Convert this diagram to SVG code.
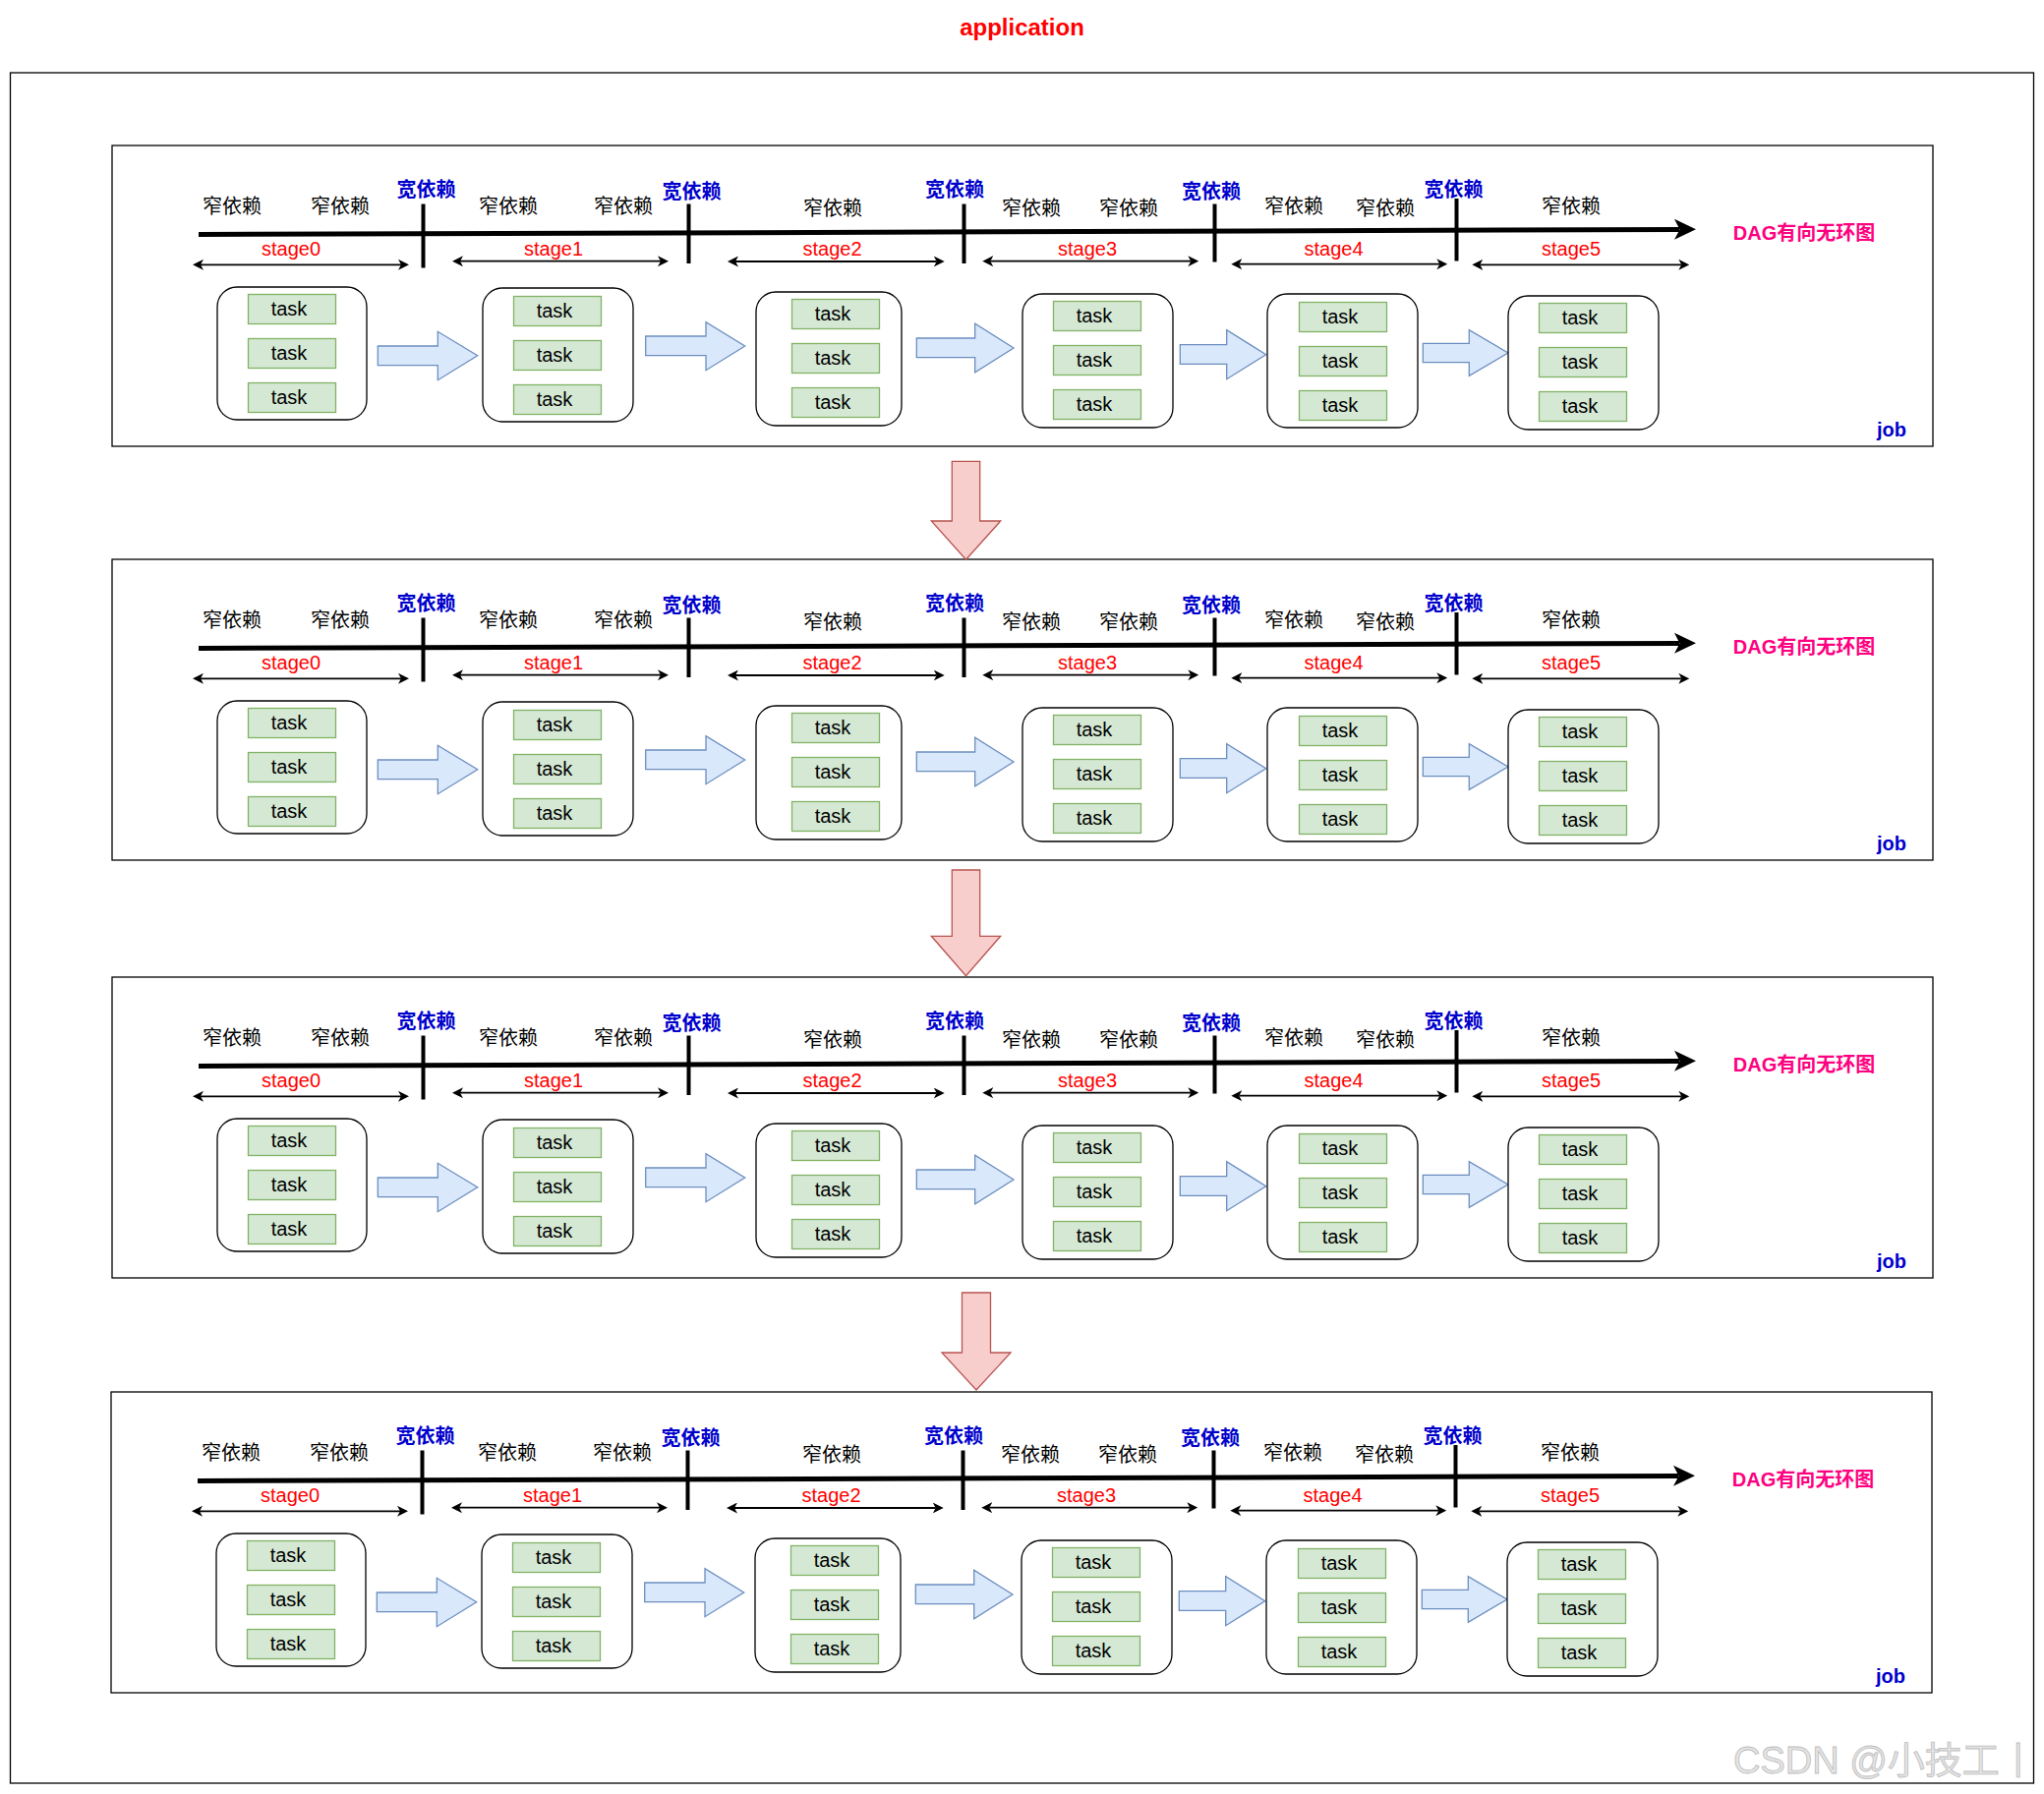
<svg xmlns="http://www.w3.org/2000/svg" width="2079" height="1825" viewBox="0 0 2079 1825">
<style>
.frame{fill:#fff;stroke:#000;stroke-width:1.3}
.job{fill:#fff;stroke:#000;stroke-width:1.3}
.stg{fill:#fff;stroke:#000;stroke-width:1.3}
.task{fill:#d5e8d4;stroke:#82b366;stroke-width:1.3}
.tt{font-family:"Liberation Sans",Arial,sans-serif;font-size:20px;text-anchor:middle;fill:#000}
.narrow{font-family:"Noto Sans CJK SC",sans-serif;font-size:20px;text-anchor:middle;fill:#000}
.wide{font-family:"Noto Sans CJK SC",sans-serif;font-size:20px;font-weight:bold;text-anchor:middle;fill:#0000CC}
.stage{font-family:"Liberation Sans",Arial,sans-serif;font-size:20px;text-anchor:middle;fill:#FF0000}
.dag{font-family:"Liberation Sans","Noto Sans CJK SC",sans-serif;font-size:20px;font-weight:bold;text-anchor:middle;fill:#FF0080}
.jobl{font-family:"Liberation Sans",Arial,sans-serif;font-size:20px;font-weight:bold;fill:#0000CC}
.title{font-family:"Liberation Sans",Arial,sans-serif;font-size:24px;font-weight:bold;text-anchor:middle;fill:#FF0000}
.sep{stroke:#000;stroke-width:4}
.axis{stroke:#000;stroke-width:5}
.span{stroke:#000;stroke-width:1.8;fill:none;marker-start:url(#ah);marker-end:url(#ah)}
.barr{fill:#dae8fc;stroke:#6c8ebf;stroke-width:1.3}
.darr{fill:#f8cecc;stroke:#b85450;stroke-width:1.3}
.wm{font-family:"Liberation Sans","Noto Sans CJK SC",sans-serif;font-size:38px;fill:#e4e4e4;stroke:#bdbdbd;stroke-width:0.8}
</style>
<defs>
<marker id="ah" viewBox="0 0 11 11" refX="3" refY="5.5" markerWidth="11" markerHeight="11" markerUnits="userSpaceOnUse" orient="auto-start-reverse"><path d="M0,0 L11,5.5 L0,11 L3,5.5 z" fill="#000"/></marker>
</defs>
<rect width="2079" height="1825" fill="#fff"/>
<g id="application">
<rect class="frame" x="10.5" y="74" width="2058" height="1740"/>
<text class="title" x="1039.5" y="36">application</text>
</g>

<!-- ROW 1 -->
<g id="r1">
<g id="r1-job"><rect class="job" x="114" y="148" width="1852" height="306"/><text class="jobl" x="1909" y="443.5">job</text></g>
<g id="r1-labels">
<text class="narrow" x="236" y="216.5">窄依赖</text>
<text class="narrow" x="346" y="216.5">窄依赖</text>
<text class="narrow" x="517" y="216.5">窄依赖</text>
<text class="narrow" x="634" y="216.5">窄依赖</text>
<text class="narrow" x="847" y="218.5">窄依赖</text>
<text class="narrow" x="1049" y="219">窄依赖</text>
<text class="narrow" x="1148" y="219">窄依赖</text>
<text class="narrow" x="1316" y="216.5">窄依赖</text>
<text class="narrow" x="1409" y="218.5">窄依赖</text>
<text class="narrow" x="1598" y="216.5">窄依赖</text>
<text class="wide" x="433.5" y="199.5">宽依赖</text>
<text class="wide" x="703.5" y="201.5">宽依赖</text>
<text class="wide" x="971" y="199.5">宽依赖</text>
<text class="wide" x="1232" y="201.5">宽依赖</text>
<text class="wide" x="1478.5" y="199.5">宽依赖</text>
<text class="stage" x="296" y="260">stage0</text>
<text class="stage" x="563" y="260">stage1</text>
<text class="stage" x="846.5" y="260">stage2</text>
<text class="stage" x="1106" y="260">stage3</text>
<text class="stage" x="1356.5" y="260">stage4</text>
<text class="stage" x="1598" y="260">stage5</text>
<text class="dag" x="1835" y="244">DAG有向无环图</text>
</g>
<g id="r1-connectors">
<line class="axis" x1="202" y1="238.5" x2="1708" y2="233.5"/>
<polygon points="1725,233.3 1703,222.8 1708.5,233.4 1703,243.8" fill="#000"/>
<line class="sep" x1="430.5" y1="207.5" x2="430.5" y2="272.5"/>
<line class="sep" x1="700.5" y1="207.5" x2="700.5" y2="268"/>
<line class="sep" x1="980.5" y1="207.5" x2="980.5" y2="268"/>
<line class="sep" x1="1235.5" y1="207.5" x2="1235.5" y2="266.5"/>
<line class="sep" x1="1481.5" y1="202" x2="1481.5" y2="265.5"/>
<line class="span" x1="204" y1="269.3" x2="408" y2="269.3"/>
<line class="span" x1="468" y1="265.7" x2="672" y2="265.7"/>
<line class="span" x1="748" y1="266" x2="952.7" y2="266"/>
<line class="span" x1="1007.3" y1="265.7" x2="1211.3" y2="265.7"/>
<line class="span" x1="1260.3" y1="268.7" x2="1464.3" y2="268.7"/>
<line class="span" x1="1505.3" y1="269.3" x2="1710.3" y2="269.3"/>
<polygon class="barr" points="384.3,352 445.3,352 445.3,337.3 485.7,361.8 445.3,386.7 445.3,371.7 384.3,371.7"/>
<polygon class="barr" points="656.7,342 718,342 718,327.7 757.7,352 718,376.7 718,361.7 656.7,361.7"/>
<polygon class="barr" points="932.3,344 991.7,344 991.7,329.3 1031,354 991.7,378.7 991.7,363.7 932.3,363.7"/>
<polygon class="barr" points="1200.3,350.7 1247.7,350.7 1247.7,335.7 1287.7,360.7 1247.7,385.7 1247.7,370.3 1200.3,370.3"/>
<polygon class="barr" points="1447.3,349.3 1494.3,349.3 1494.3,335.7 1534,359 1494.3,382.3 1494.3,368.7 1447.3,368.7"/>
</g>
<g id="r1-stage0"><rect class="stg" x="221" y="292" width="152" height="135" rx="20"/>
<g id="r1-s0-t1"><rect class="task" x="252.5" y="299.5" width="89" height="30"/><text class="tt" x="294" y="321">task</text></g>
<g id="r1-s0-t2"><rect class="task" x="252.5" y="344.5" width="89" height="30"/><text class="tt" x="294" y="366">task</text></g>
<g id="r1-s0-t3"><rect class="task" x="252.5" y="389.5" width="89" height="30"/><text class="tt" x="294" y="411">task</text></g></g>
<g id="r1-stage1"><rect class="stg" x="491" y="293" width="153" height="136" rx="20"/>
<g id="r1-s1-t1"><rect class="task" x="522.5" y="301.5" width="89" height="30"/><text class="tt" x="564" y="323">task</text></g>
<g id="r1-s1-t2"><rect class="task" x="522.5" y="346.5" width="89" height="30"/><text class="tt" x="564" y="368">task</text></g>
<g id="r1-s1-t3"><rect class="task" x="522.5" y="391.5" width="89" height="30"/><text class="tt" x="564" y="413">task</text></g></g>
<g id="r1-stage2"><rect class="stg" x="769" y="297" width="148" height="136" rx="20"/>
<g id="r1-s2-t1"><rect class="task" x="805.5" y="304.5" width="89" height="30"/><text class="tt" x="847" y="326">task</text></g>
<g id="r1-s2-t2"><rect class="task" x="805.5" y="349.5" width="89" height="30"/><text class="tt" x="847" y="371">task</text></g>
<g id="r1-s2-t3"><rect class="task" x="805.5" y="394.5" width="89" height="30"/><text class="tt" x="847" y="416">task</text></g></g>
<g id="r1-stage3"><rect class="stg" x="1040" y="299" width="153" height="136" rx="20"/>
<g id="r1-s3-t1"><rect class="task" x="1071.5" y="306.5" width="89" height="30"/><text class="tt" x="1113" y="328">task</text></g>
<g id="r1-s3-t2"><rect class="task" x="1071.5" y="351.5" width="89" height="30"/><text class="tt" x="1113" y="373">task</text></g>
<g id="r1-s3-t3"><rect class="task" x="1071.5" y="396.5" width="89" height="30"/><text class="tt" x="1113" y="418">task</text></g></g>
<g id="r1-stage4"><rect class="stg" x="1289" y="299" width="153" height="136" rx="20"/>
<g id="r1-s4-t1"><rect class="task" x="1321.5" y="307.5" width="89" height="30"/><text class="tt" x="1363" y="329">task</text></g>
<g id="r1-s4-t2"><rect class="task" x="1321.5" y="352.5" width="89" height="30"/><text class="tt" x="1363" y="374">task</text></g>
<g id="r1-s4-t3"><rect class="task" x="1321.5" y="397.5" width="89" height="30"/><text class="tt" x="1363" y="419">task</text></g></g>
<g id="r1-stage5"><rect class="stg" x="1534" y="301" width="153" height="136" rx="20"/>
<g id="r1-s5-t1"><rect class="task" x="1565.5" y="308.5" width="89" height="30"/><text class="tt" x="1607" y="330">task</text></g>
<g id="r1-s5-t2"><rect class="task" x="1565.5" y="353.5" width="89" height="30"/><text class="tt" x="1607" y="375">task</text></g>
<g id="r1-s5-t3"><rect class="task" x="1565.5" y="398.5" width="89" height="30"/><text class="tt" x="1607" y="420">task</text></g></g>
</g>

<!-- ROW 2 -->
<g id="r2" transform="translate(0,421)">
<g id="r2-job"><rect class="job" x="114" y="148" width="1852" height="306"/><text class="jobl" x="1909" y="443.5">job</text></g>
<g id="r2-labels">
<text class="narrow" x="236" y="216.5">窄依赖</text>
<text class="narrow" x="346" y="216.5">窄依赖</text>
<text class="narrow" x="517" y="216.5">窄依赖</text>
<text class="narrow" x="634" y="216.5">窄依赖</text>
<text class="narrow" x="847" y="218.5">窄依赖</text>
<text class="narrow" x="1049" y="219">窄依赖</text>
<text class="narrow" x="1148" y="219">窄依赖</text>
<text class="narrow" x="1316" y="216.5">窄依赖</text>
<text class="narrow" x="1409" y="218.5">窄依赖</text>
<text class="narrow" x="1598" y="216.5">窄依赖</text>
<text class="wide" x="433.5" y="199.5">宽依赖</text>
<text class="wide" x="703.5" y="201.5">宽依赖</text>
<text class="wide" x="971" y="199.5">宽依赖</text>
<text class="wide" x="1232" y="201.5">宽依赖</text>
<text class="wide" x="1478.5" y="199.5">宽依赖</text>
<text class="stage" x="296" y="260">stage0</text>
<text class="stage" x="563" y="260">stage1</text>
<text class="stage" x="846.5" y="260">stage2</text>
<text class="stage" x="1106" y="260">stage3</text>
<text class="stage" x="1356.5" y="260">stage4</text>
<text class="stage" x="1598" y="260">stage5</text>
<text class="dag" x="1835" y="244">DAG有向无环图</text>
</g>
<g id="r2-connectors">
<line class="axis" x1="202" y1="238.5" x2="1708" y2="233.5"/>
<polygon points="1725,233.3 1703,222.8 1708.5,233.4 1703,243.8" fill="#000"/>
<line class="sep" x1="430.5" y1="207.5" x2="430.5" y2="272.5"/>
<line class="sep" x1="700.5" y1="207.5" x2="700.5" y2="268"/>
<line class="sep" x1="980.5" y1="207.5" x2="980.5" y2="268"/>
<line class="sep" x1="1235.5" y1="207.5" x2="1235.5" y2="266.5"/>
<line class="sep" x1="1481.5" y1="202" x2="1481.5" y2="265.5"/>
<line class="span" x1="204" y1="269.3" x2="408" y2="269.3"/>
<line class="span" x1="468" y1="265.7" x2="672" y2="265.7"/>
<line class="span" x1="748" y1="266" x2="952.7" y2="266"/>
<line class="span" x1="1007.3" y1="265.7" x2="1211.3" y2="265.7"/>
<line class="span" x1="1260.3" y1="268.7" x2="1464.3" y2="268.7"/>
<line class="span" x1="1505.3" y1="269.3" x2="1710.3" y2="269.3"/>
<polygon class="barr" points="384.3,352 445.3,352 445.3,337.3 485.7,361.8 445.3,386.7 445.3,371.7 384.3,371.7"/>
<polygon class="barr" points="656.7,342 718,342 718,327.7 757.7,352 718,376.7 718,361.7 656.7,361.7"/>
<polygon class="barr" points="932.3,344 991.7,344 991.7,329.3 1031,354 991.7,378.7 991.7,363.7 932.3,363.7"/>
<polygon class="barr" points="1200.3,350.7 1247.7,350.7 1247.7,335.7 1287.7,360.7 1247.7,385.7 1247.7,370.3 1200.3,370.3"/>
<polygon class="barr" points="1447.3,349.3 1494.3,349.3 1494.3,335.7 1534,359 1494.3,382.3 1494.3,368.7 1447.3,368.7"/>
</g>
<g id="r2-stage0"><rect class="stg" x="221" y="292" width="152" height="135" rx="20"/>
<g id="r2-s0-t1"><rect class="task" x="252.5" y="299.5" width="89" height="30"/><text class="tt" x="294" y="321">task</text></g>
<g id="r2-s0-t2"><rect class="task" x="252.5" y="344.5" width="89" height="30"/><text class="tt" x="294" y="366">task</text></g>
<g id="r2-s0-t3"><rect class="task" x="252.5" y="389.5" width="89" height="30"/><text class="tt" x="294" y="411">task</text></g></g>
<g id="r2-stage1"><rect class="stg" x="491" y="293" width="153" height="136" rx="20"/>
<g id="r2-s1-t1"><rect class="task" x="522.5" y="301.5" width="89" height="30"/><text class="tt" x="564" y="323">task</text></g>
<g id="r2-s1-t2"><rect class="task" x="522.5" y="346.5" width="89" height="30"/><text class="tt" x="564" y="368">task</text></g>
<g id="r2-s1-t3"><rect class="task" x="522.5" y="391.5" width="89" height="30"/><text class="tt" x="564" y="413">task</text></g></g>
<g id="r2-stage2"><rect class="stg" x="769" y="297" width="148" height="136" rx="20"/>
<g id="r2-s2-t1"><rect class="task" x="805.5" y="304.5" width="89" height="30"/><text class="tt" x="847" y="326">task</text></g>
<g id="r2-s2-t2"><rect class="task" x="805.5" y="349.5" width="89" height="30"/><text class="tt" x="847" y="371">task</text></g>
<g id="r2-s2-t3"><rect class="task" x="805.5" y="394.5" width="89" height="30"/><text class="tt" x="847" y="416">task</text></g></g>
<g id="r2-stage3"><rect class="stg" x="1040" y="299" width="153" height="136" rx="20"/>
<g id="r2-s3-t1"><rect class="task" x="1071.5" y="306.5" width="89" height="30"/><text class="tt" x="1113" y="328">task</text></g>
<g id="r2-s3-t2"><rect class="task" x="1071.5" y="351.5" width="89" height="30"/><text class="tt" x="1113" y="373">task</text></g>
<g id="r2-s3-t3"><rect class="task" x="1071.5" y="396.5" width="89" height="30"/><text class="tt" x="1113" y="418">task</text></g></g>
<g id="r2-stage4"><rect class="stg" x="1289" y="299" width="153" height="136" rx="20"/>
<g id="r2-s4-t1"><rect class="task" x="1321.5" y="307.5" width="89" height="30"/><text class="tt" x="1363" y="329">task</text></g>
<g id="r2-s4-t2"><rect class="task" x="1321.5" y="352.5" width="89" height="30"/><text class="tt" x="1363" y="374">task</text></g>
<g id="r2-s4-t3"><rect class="task" x="1321.5" y="397.5" width="89" height="30"/><text class="tt" x="1363" y="419">task</text></g></g>
<g id="r2-stage5"><rect class="stg" x="1534" y="301" width="153" height="136" rx="20"/>
<g id="r2-s5-t1"><rect class="task" x="1565.5" y="308.5" width="89" height="30"/><text class="tt" x="1607" y="330">task</text></g>
<g id="r2-s5-t2"><rect class="task" x="1565.5" y="353.5" width="89" height="30"/><text class="tt" x="1607" y="375">task</text></g>
<g id="r2-s5-t3"><rect class="task" x="1565.5" y="398.5" width="89" height="30"/><text class="tt" x="1607" y="420">task</text></g></g>
</g>

<!-- ROW 3 -->
<g id="r3" transform="translate(0,846)">
<g id="r3-job"><rect class="job" x="114" y="148" width="1852" height="306"/><text class="jobl" x="1909" y="443.5">job</text></g>
<g id="r3-labels">
<text class="narrow" x="236" y="216.5">窄依赖</text>
<text class="narrow" x="346" y="216.5">窄依赖</text>
<text class="narrow" x="517" y="216.5">窄依赖</text>
<text class="narrow" x="634" y="216.5">窄依赖</text>
<text class="narrow" x="847" y="218.5">窄依赖</text>
<text class="narrow" x="1049" y="219">窄依赖</text>
<text class="narrow" x="1148" y="219">窄依赖</text>
<text class="narrow" x="1316" y="216.5">窄依赖</text>
<text class="narrow" x="1409" y="218.5">窄依赖</text>
<text class="narrow" x="1598" y="216.5">窄依赖</text>
<text class="wide" x="433.5" y="199.5">宽依赖</text>
<text class="wide" x="703.5" y="201.5">宽依赖</text>
<text class="wide" x="971" y="199.5">宽依赖</text>
<text class="wide" x="1232" y="201.5">宽依赖</text>
<text class="wide" x="1478.5" y="199.5">宽依赖</text>
<text class="stage" x="296" y="260">stage0</text>
<text class="stage" x="563" y="260">stage1</text>
<text class="stage" x="846.5" y="260">stage2</text>
<text class="stage" x="1106" y="260">stage3</text>
<text class="stage" x="1356.5" y="260">stage4</text>
<text class="stage" x="1598" y="260">stage5</text>
<text class="dag" x="1835" y="244">DAG有向无环图</text>
</g>
<g id="r3-connectors">
<line class="axis" x1="202" y1="238.5" x2="1708" y2="233.5"/>
<polygon points="1725,233.3 1703,222.8 1708.5,233.4 1703,243.8" fill="#000"/>
<line class="sep" x1="430.5" y1="207.5" x2="430.5" y2="272.5"/>
<line class="sep" x1="700.5" y1="207.5" x2="700.5" y2="268"/>
<line class="sep" x1="980.5" y1="207.5" x2="980.5" y2="268"/>
<line class="sep" x1="1235.5" y1="207.5" x2="1235.5" y2="266.5"/>
<line class="sep" x1="1481.5" y1="202" x2="1481.5" y2="265.5"/>
<line class="span" x1="204" y1="269.3" x2="408" y2="269.3"/>
<line class="span" x1="468" y1="265.7" x2="672" y2="265.7"/>
<line class="span" x1="748" y1="266" x2="952.7" y2="266"/>
<line class="span" x1="1007.3" y1="265.7" x2="1211.3" y2="265.7"/>
<line class="span" x1="1260.3" y1="268.7" x2="1464.3" y2="268.7"/>
<line class="span" x1="1505.3" y1="269.3" x2="1710.3" y2="269.3"/>
<polygon class="barr" points="384.3,352 445.3,352 445.3,337.3 485.7,361.8 445.3,386.7 445.3,371.7 384.3,371.7"/>
<polygon class="barr" points="656.7,342 718,342 718,327.7 757.7,352 718,376.7 718,361.7 656.7,361.7"/>
<polygon class="barr" points="932.3,344 991.7,344 991.7,329.3 1031,354 991.7,378.7 991.7,363.7 932.3,363.7"/>
<polygon class="barr" points="1200.3,350.7 1247.7,350.7 1247.7,335.7 1287.7,360.7 1247.7,385.7 1247.7,370.3 1200.3,370.3"/>
<polygon class="barr" points="1447.3,349.3 1494.3,349.3 1494.3,335.7 1534,359 1494.3,382.3 1494.3,368.7 1447.3,368.7"/>
</g>
<g id="r3-stage0"><rect class="stg" x="221" y="292" width="152" height="135" rx="20"/>
<g id="r3-s0-t1"><rect class="task" x="252.5" y="299.5" width="89" height="30"/><text class="tt" x="294" y="321">task</text></g>
<g id="r3-s0-t2"><rect class="task" x="252.5" y="344.5" width="89" height="30"/><text class="tt" x="294" y="366">task</text></g>
<g id="r3-s0-t3"><rect class="task" x="252.5" y="389.5" width="89" height="30"/><text class="tt" x="294" y="411">task</text></g></g>
<g id="r3-stage1"><rect class="stg" x="491" y="293" width="153" height="136" rx="20"/>
<g id="r3-s1-t1"><rect class="task" x="522.5" y="301.5" width="89" height="30"/><text class="tt" x="564" y="323">task</text></g>
<g id="r3-s1-t2"><rect class="task" x="522.5" y="346.5" width="89" height="30"/><text class="tt" x="564" y="368">task</text></g>
<g id="r3-s1-t3"><rect class="task" x="522.5" y="391.5" width="89" height="30"/><text class="tt" x="564" y="413">task</text></g></g>
<g id="r3-stage2"><rect class="stg" x="769" y="297" width="148" height="136" rx="20"/>
<g id="r3-s2-t1"><rect class="task" x="805.5" y="304.5" width="89" height="30"/><text class="tt" x="847" y="326">task</text></g>
<g id="r3-s2-t2"><rect class="task" x="805.5" y="349.5" width="89" height="30"/><text class="tt" x="847" y="371">task</text></g>
<g id="r3-s2-t3"><rect class="task" x="805.5" y="394.5" width="89" height="30"/><text class="tt" x="847" y="416">task</text></g></g>
<g id="r3-stage3"><rect class="stg" x="1040" y="299" width="153" height="136" rx="20"/>
<g id="r3-s3-t1"><rect class="task" x="1071.5" y="306.5" width="89" height="30"/><text class="tt" x="1113" y="328">task</text></g>
<g id="r3-s3-t2"><rect class="task" x="1071.5" y="351.5" width="89" height="30"/><text class="tt" x="1113" y="373">task</text></g>
<g id="r3-s3-t3"><rect class="task" x="1071.5" y="396.5" width="89" height="30"/><text class="tt" x="1113" y="418">task</text></g></g>
<g id="r3-stage4"><rect class="stg" x="1289" y="299" width="153" height="136" rx="20"/>
<g id="r3-s4-t1"><rect class="task" x="1321.5" y="307.5" width="89" height="30"/><text class="tt" x="1363" y="329">task</text></g>
<g id="r3-s4-t2"><rect class="task" x="1321.5" y="352.5" width="89" height="30"/><text class="tt" x="1363" y="374">task</text></g>
<g id="r3-s4-t3"><rect class="task" x="1321.5" y="397.5" width="89" height="30"/><text class="tt" x="1363" y="419">task</text></g></g>
<g id="r3-stage5"><rect class="stg" x="1534" y="301" width="153" height="136" rx="20"/>
<g id="r3-s5-t1"><rect class="task" x="1565.5" y="308.5" width="89" height="30"/><text class="tt" x="1607" y="330">task</text></g>
<g id="r3-s5-t2"><rect class="task" x="1565.5" y="353.5" width="89" height="30"/><text class="tt" x="1607" y="375">task</text></g>
<g id="r3-s5-t3"><rect class="task" x="1565.5" y="398.5" width="89" height="30"/><text class="tt" x="1607" y="420">task</text></g></g>
</g>

<!-- ROW 4 -->
<g id="r4" transform="translate(-1,1268)">
<g id="r4-job"><rect class="job" x="114" y="148" width="1852" height="306"/><text class="jobl" x="1909" y="443.5">job</text></g>
<g id="r4-labels">
<text class="narrow" x="236" y="216.5">窄依赖</text>
<text class="narrow" x="346" y="216.5">窄依赖</text>
<text class="narrow" x="517" y="216.5">窄依赖</text>
<text class="narrow" x="634" y="216.5">窄依赖</text>
<text class="narrow" x="847" y="218.5">窄依赖</text>
<text class="narrow" x="1049" y="219">窄依赖</text>
<text class="narrow" x="1148" y="219">窄依赖</text>
<text class="narrow" x="1316" y="216.5">窄依赖</text>
<text class="narrow" x="1409" y="218.5">窄依赖</text>
<text class="narrow" x="1598" y="216.5">窄依赖</text>
<text class="wide" x="433.5" y="199.5">宽依赖</text>
<text class="wide" x="703.5" y="201.5">宽依赖</text>
<text class="wide" x="971" y="199.5">宽依赖</text>
<text class="wide" x="1232" y="201.5">宽依赖</text>
<text class="wide" x="1478.5" y="199.5">宽依赖</text>
<text class="stage" x="296" y="260">stage0</text>
<text class="stage" x="563" y="260">stage1</text>
<text class="stage" x="846.5" y="260">stage2</text>
<text class="stage" x="1106" y="260">stage3</text>
<text class="stage" x="1356.5" y="260">stage4</text>
<text class="stage" x="1598" y="260">stage5</text>
<text class="dag" x="1835" y="244">DAG有向无环图</text>
</g>
<g id="r4-connectors">
<line class="axis" x1="202" y1="238.5" x2="1708" y2="233.5"/>
<polygon points="1725,233.3 1703,222.8 1708.5,233.4 1703,243.8" fill="#000"/>
<line class="sep" x1="430.5" y1="207.5" x2="430.5" y2="272.5"/>
<line class="sep" x1="700.5" y1="207.5" x2="700.5" y2="268"/>
<line class="sep" x1="980.5" y1="207.5" x2="980.5" y2="268"/>
<line class="sep" x1="1235.5" y1="207.5" x2="1235.5" y2="266.5"/>
<line class="sep" x1="1481.5" y1="202" x2="1481.5" y2="265.5"/>
<line class="span" x1="204" y1="269.3" x2="408" y2="269.3"/>
<line class="span" x1="468" y1="265.7" x2="672" y2="265.7"/>
<line class="span" x1="748" y1="266" x2="952.7" y2="266"/>
<line class="span" x1="1007.3" y1="265.7" x2="1211.3" y2="265.7"/>
<line class="span" x1="1260.3" y1="268.7" x2="1464.3" y2="268.7"/>
<line class="span" x1="1505.3" y1="269.3" x2="1710.3" y2="269.3"/>
<polygon class="barr" points="384.3,352 445.3,352 445.3,337.3 485.7,361.8 445.3,386.7 445.3,371.7 384.3,371.7"/>
<polygon class="barr" points="656.7,342 718,342 718,327.7 757.7,352 718,376.7 718,361.7 656.7,361.7"/>
<polygon class="barr" points="932.3,344 991.7,344 991.7,329.3 1031,354 991.7,378.7 991.7,363.7 932.3,363.7"/>
<polygon class="barr" points="1200.3,350.7 1247.7,350.7 1247.7,335.7 1287.7,360.7 1247.7,385.7 1247.7,370.3 1200.3,370.3"/>
<polygon class="barr" points="1447.3,349.3 1494.3,349.3 1494.3,335.7 1534,359 1494.3,382.3 1494.3,368.7 1447.3,368.7"/>
</g>
<g id="r4-stage0"><rect class="stg" x="221" y="292" width="152" height="135" rx="20"/>
<g id="r4-s0-t1"><rect class="task" x="252.5" y="299.5" width="89" height="30"/><text class="tt" x="294" y="321">task</text></g>
<g id="r4-s0-t2"><rect class="task" x="252.5" y="344.5" width="89" height="30"/><text class="tt" x="294" y="366">task</text></g>
<g id="r4-s0-t3"><rect class="task" x="252.5" y="389.5" width="89" height="30"/><text class="tt" x="294" y="411">task</text></g></g>
<g id="r4-stage1"><rect class="stg" x="491" y="293" width="153" height="136" rx="20"/>
<g id="r4-s1-t1"><rect class="task" x="522.5" y="301.5" width="89" height="30"/><text class="tt" x="564" y="323">task</text></g>
<g id="r4-s1-t2"><rect class="task" x="522.5" y="346.5" width="89" height="30"/><text class="tt" x="564" y="368">task</text></g>
<g id="r4-s1-t3"><rect class="task" x="522.5" y="391.5" width="89" height="30"/><text class="tt" x="564" y="413">task</text></g></g>
<g id="r4-stage2"><rect class="stg" x="769" y="297" width="148" height="136" rx="20"/>
<g id="r4-s2-t1"><rect class="task" x="805.5" y="304.5" width="89" height="30"/><text class="tt" x="847" y="326">task</text></g>
<g id="r4-s2-t2"><rect class="task" x="805.5" y="349.5" width="89" height="30"/><text class="tt" x="847" y="371">task</text></g>
<g id="r4-s2-t3"><rect class="task" x="805.5" y="394.5" width="89" height="30"/><text class="tt" x="847" y="416">task</text></g></g>
<g id="r4-stage3"><rect class="stg" x="1040" y="299" width="153" height="136" rx="20"/>
<g id="r4-s3-t1"><rect class="task" x="1071.5" y="306.5" width="89" height="30"/><text class="tt" x="1113" y="328">task</text></g>
<g id="r4-s3-t2"><rect class="task" x="1071.5" y="351.5" width="89" height="30"/><text class="tt" x="1113" y="373">task</text></g>
<g id="r4-s3-t3"><rect class="task" x="1071.5" y="396.5" width="89" height="30"/><text class="tt" x="1113" y="418">task</text></g></g>
<g id="r4-stage4"><rect class="stg" x="1289" y="299" width="153" height="136" rx="20"/>
<g id="r4-s4-t1"><rect class="task" x="1321.5" y="307.5" width="89" height="30"/><text class="tt" x="1363" y="329">task</text></g>
<g id="r4-s4-t2"><rect class="task" x="1321.5" y="352.5" width="89" height="30"/><text class="tt" x="1363" y="374">task</text></g>
<g id="r4-s4-t3"><rect class="task" x="1321.5" y="397.5" width="89" height="30"/><text class="tt" x="1363" y="419">task</text></g></g>
<g id="r4-stage5"><rect class="stg" x="1534" y="301" width="153" height="136" rx="20"/>
<g id="r4-s5-t1"><rect class="task" x="1565.5" y="308.5" width="89" height="30"/><text class="tt" x="1607" y="330">task</text></g>
<g id="r4-s5-t2"><rect class="task" x="1565.5" y="353.5" width="89" height="30"/><text class="tt" x="1607" y="375">task</text></g>
<g id="r4-s5-t3"><rect class="task" x="1565.5" y="398.5" width="89" height="30"/><text class="tt" x="1607" y="420">task</text></g></g>
</g>

<g id="connectors">
<polygon class="darr" points="968.3,469.3 996.7,469.3 996.7,530 1017.7,530 982.5,569.3 947.3,530 968.3,530"/>
<polygon class="darr" points="968.3,885 996.7,885 996.7,952.3 1017.7,952.3 982.5,992.7 947.3,952.3 968.3,952.3"/>
<polygon class="darr" points="978.5,1315 1007.5,1315 1007.5,1376 1028,1376 993,1414 958,1376 978.5,1376"/>
</g>

<text class="wm" x="1763" y="1804">CSDN @小技工丨</text>
</svg>
